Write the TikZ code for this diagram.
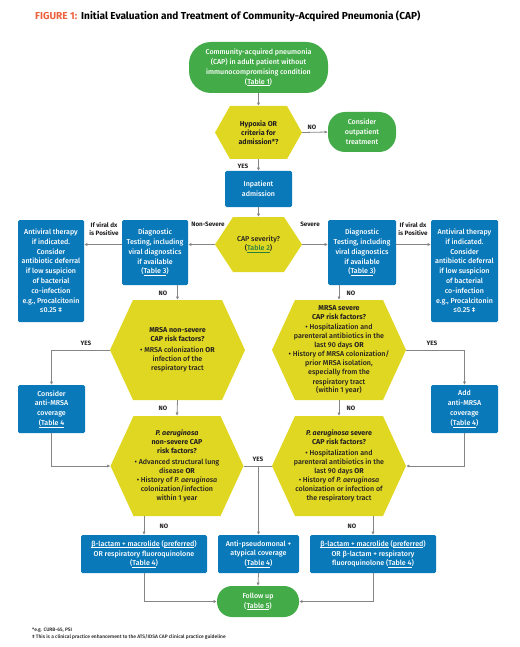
\documentclass[tikz,border=0pt]{standalone}
\usepackage{fontspec}
\setmainfont{Fira Sans}[UprightFont=* Medium, ItalicFont=* Medium Italic,
    BoldFont=* Bold, BoldItalicFont=* Bold Italic]
\usetikzlibrary{arrows.meta}

\definecolor{capgreen}{HTML}{43AC48}
\definecolor{capblue}{HTML}{0A79BA}
\definecolor{capyellow}{HTML}{E0D722}
\definecolor{capgray}{HTML}{858585}
\definecolor{captext}{HTML}{231F20}
\definecolor{caplink}{HTML}{2A7F3F}
\definecolor{figorange}{HTML}{EE613D}

\newcommand\titlefont{\bfseries\fontsize{10.1}{11}\selectfont}
\newcommand\boxfont{\fontsize{7.1}{9.8}\selectfont}
\newcommand\hexfont{\fontsize{7.1}{9}\selectfont}
\newcommand\lblfont{\bfseries\fontsize{6.3}{7.8}\selectfont}
\newcommand\notefont{\fontsize{4.9}{6.8}\selectfont}
\newcommand\tbl[1]{\underline{\smash{#1}}}

\tikzset{
    greenbox/.style={fill=capgreen, text=white, rounded corners=#1, align=center,
        inner sep=0pt, font=\boxfont},
    bluebox/.style={fill=capblue, text=white, rounded corners=1.5pt, align=center,
        inner sep=0pt, font=\boxfont},
    hexbox/.style={align=center, inner sep=0pt, text=captext, font=\hexfont,
        path picture={
            \fill[capyellow] ([xshift=#1]path picture bounding box.north west)
                -- ([xshift=-#1]path picture bounding box.north east)
                -- (path picture bounding box.east)
                -- ([xshift=-#1]path picture bounding box.south east)
                -- ([xshift=#1]path picture bounding box.south west)
                -- (path picture bounding box.west) -- cycle;}},
    conn/.style={draw=capgray, line width=0.8pt, -{Latex[length=3.2pt,width=3.2pt]}},
    link/.style={draw=capgray, line width=0.8pt},
    lbl/.style={font=\lblfont, text=captext, inner sep=0pt, align=center}
}

\begin{document}
\begin{tikzpicture}[x=1pt,y=-1pt]
    \useasboundingbox (0,0) rectangle (519,647);

    %%% Title %%%
    \node[anchor=west, inner sep=0pt, font=\titlefont] (title) at (35,16)
        {\textcolor{figorange}{FIGURE 1:}\hspace{4pt}Initial Evaluation and Treatment of Community-Acquired Pneumonia (CAP)};

    %%% Entry and admission %%%
    \node[greenbox=22pt, minimum width=139pt, minimum height=51pt] (start) at (258.5,67.5)
        {Community-acquired pneumonia\\(CAP) in adult patient without\\immunocompromising condition\\(\tbl{Table 1})};
    \node[hexbox=15pt, minimum width=87pt, minimum height=53pt] (hypox) at (258.5,132.5)
        {\bfseries Hypoxia OR\\\bfseries criteria for\\\bfseries admission*?};
    \node[greenbox=17pt, minimum width=68pt, minimum height=40pt] (outpt) at (362,132)
        {Consider\\outpatient\\treatment};
    \node[bluebox, minimum width=67pt, minimum height=36pt] (inpt) at (258.5,189)
        {Inpatient\\admission};

    %%% Severity %%%
    \node[hexbox=18pt, minimum width=87pt, minimum height=55pt] (sev) at (258.5,244.5)
        {CAP severity?\\(\textcolor{caplink}{\tbl{Table 2}})};
    \node[bluebox, minimum width=66pt, minimum height=65pt] (diagL) at (155,252.5)
        {Diagnostic\\Testing, including\\viral diagnostics\\if available\\(\tbl{Table 3})};
    \node[bluebox, minimum width=68pt, minimum height=65pt] (diagR) at (362,252.5)
        {Diagnostic\\Testing, including\\viral diagnostics\\if available\\(\tbl{Table 3})};
    \node[bluebox, minimum width=66pt, minimum height=102pt] (avL) at (51,271)
        {Antiviral therapy\\if indicated.\\Consider\\antibiotic deferral\\if low suspicion\\of bacterial\\co-infection\\e.g., Procalcitonin\\≤0.25 ‡};
    \node[bluebox, minimum width=67pt, minimum height=102pt] (avR) at (464.5,271)
        {Antiviral therapy\\if indicated.\\Consider\\antibiotic deferral\\if low suspicion\\of bacterial\\co-infection\\e.g., Procalcitonin\\≤0.25 ‡};

    %%% MRSA risk %%%
    \node[hexbox=23pt, minimum width=135pt, minimum height=100pt] (mrsaL) at (177.5,350)
        {\bfseries MRSA non-severe\\\bfseries CAP risk factors?\\[1.5pt]%
         • MRSA colonization \textbf{OR}\\infection of the\\respiratory tract};
    \node[hexbox=23pt, minimum width=134pt, minimum height=100pt] (mrsaR) at (339,350)
        {\bfseries MRSA severe\\\bfseries CAP risk factors?\\[1.5pt]%
         • Hospitalization and\\parenteral antibiotics in the\\last 90 days \textbf{OR}\\%
         • History of MRSA colonization/\\prior MRSA isolation,\\especially from the\\respiratory tract\\(within 1 year)};
    \node[bluebox, minimum width=67pt, minimum height=48pt] (mrsaTxL) at (51.5,409)
        {Consider\\anti-MRSA\\coverage\\\tbl{(Table 4}};
    \node[bluebox, minimum width=67pt, minimum height=48pt] (mrsaTxR) at (464.5,409)
        {Add\\anti-MRSA\\coverage\\(\tbl{Table 4})};

    %%% P. aeruginosa risk %%%
    \node[hexbox=23pt, minimum width=133pt, minimum height=100pt] (psaL) at (177,466)
        {\bfseries\itshape P. aeruginosa\\\bfseries non-severe CAP\\\bfseries risk factors?\\[1.5pt]%
         • Advanced structural lung\\disease \textbf{OR}\\%
         • History of \textit{P. aeruginosa}\\colonization/infection\\within 1 year};
    \node[hexbox=23pt, minimum width=134pt, minimum height=100pt] (psaR) at (339,466)
        {\bfseries\itshape P. aeruginosa \bfseries\upshape severe\\\bfseries CAP risk factors?\\[1.5pt]%
         • Hospitalization and\\parenteral antibiotics in the\\last 90 days \textbf{OR}\\%
         • History of \textit{P. aeruginosa}\\colonization or infection of\\the respiratory tract};

    %%% Treatment %%%
    \node[bluebox, minimum width=126pt, minimum height=38pt] (txL) at (144,554)
        {\tbl{β-lactam + macrolide} (\tbl{preferred})\\OR respiratory fluoroquinolone\\(\tbl{Table 4})};
    \node[bluebox, minimum width=81pt, minimum height=38pt] (txM) at (258.5,554)
        {Anti-pseudomonal +\\atypical coverage\\(\tbl{Table 4})};
    \node[bluebox, minimum width=126pt, minimum height=38pt] (txR) at (373,554)
        {\tbl{β-lactam + macrolide} (\tbl{preferred})\\OR β-lactam + respiratory\\fluoroquinolone (\tbl{Table 4})};
    \node[greenbox=15pt, minimum width=82pt, minimum height=31pt] (follow) at (258,601.5)
        {Follow up\\(\tbl{Table 5})};

    %%% Connectors %%%
    \draw[conn] (start) -- (hypox);
    \draw[conn] (hypox.east) -- (outpt.west);
    \draw[conn] (hypox.south) -- (inpt.north);
    \draw[conn] (inpt.south) -- (sev.north);
    \draw[conn] (sev.west) -- (sev.west -| diagL.east);
    \draw[conn] (sev.east) -- (sev.east -| diagR.west);
    \draw[conn] (sev.west -| diagL.west) -- (sev.west -| avL.east);
    \draw[conn] (sev.east -| diagR.east) -- (sev.east -| avR.west);
    \draw[conn] (diagL.south -| mrsaL.north) -- (mrsaL.north);
    \draw[conn] (diagR.south -| mrsaR.north) -- (mrsaR.north);
    \draw[conn] (mrsaL.west) -| (mrsaTxL.north);
    \draw[conn] (mrsaR.east) -| (mrsaTxR.north);
    \draw[conn] (mrsaL.south) -- (psaL.north);
    \draw[conn] (mrsaR.south) -- (psaR.north);
    \draw[conn] (mrsaTxL.south) |- (psaL.west);
    \draw[conn] (mrsaTxR.south) |- (psaR.east);
    \draw[link] (psaL.east) -- (psaR.west);
    \coordinate (yesM) at (txM.north |- psaL.east);
    \draw[conn] (yesM) -- (txM.north);
    \draw[conn] (psaL.south -| txL.north) -- (txL.north);
    \draw[conn] (psaR.south -| txR.north) -- (txR.north);
    \draw[conn] (txL.south) |- (follow.west);
    \draw[conn] (txR.south) |- (follow.east);
    \draw[conn] (txM.south) -- (follow.north);

    %%% Connector labels %%%
    \node[lbl] (noHyp) at (312,127) {NO};
    \node[lbl] (yesHyp) at (243,166) {YES};
    \node[lbl] (nonSev) at (208,224) {Non-Severe};
    \node[lbl] (isSev) at (310,224) {Severe};
    \node[lbl] (dxL) at (104,229) {If viral dx\\is Positive};
    \node[lbl] (dxR) at (413,229) {If viral dx\\is Positive};
    \node[lbl] (noDiagL) at (163,293) {NO};
    \node[lbl] (noDiagR) at (351,293) {NO};
    \node[lbl] (yesMrsaL) at (86,343) {YES};
    \node[lbl] (yesMrsaR) at (432,343) {YES};
    \node[lbl] (noMrsaL) at (163,408) {NO};
    \node[lbl] (noMrsaR) at (351,408) {NO};
    \node[lbl] (yesPsa) at (258,459) {YES};
    \node[lbl] (noPsaL) at (164,526) {NO};
    \node[lbl] (noPsaR) at (352,526) {NO};

    %%% Footnotes %%%
    \node[anchor=west, inner sep=0pt, font=\notefont, text=captext] (note1) at (32,630)
        {*e.g. CURB-65, PSI};
    \node[anchor=west, inner sep=0pt, font=\notefont, text=captext] (note2) at (32,637)
        {‡ This is a clinical practice enhancement to the ATS/IDSA CAP clinical practice guideline};
\end{tikzpicture}
\end{document}
